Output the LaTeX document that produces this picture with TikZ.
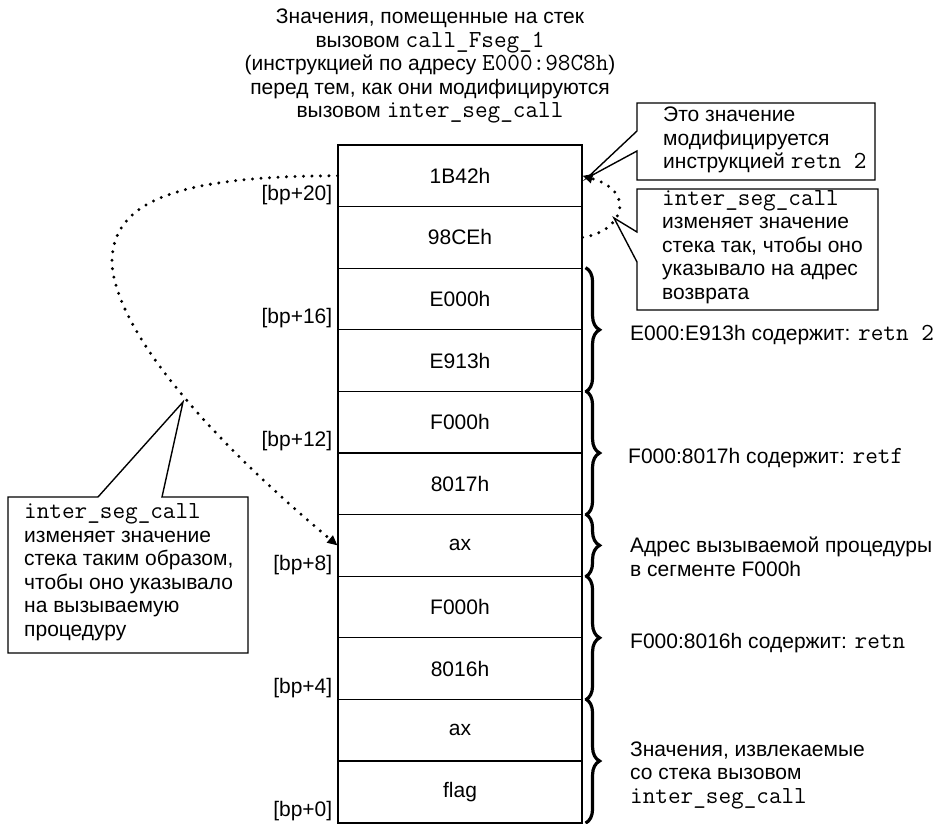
\documentclass[tikz,border=0pt]{standalone}
\usepackage{fontspec}
\setmainfont{Liberation Sans}
\usetikzlibrary{arrows.meta,decorations.pathreplacing,positioning}

\newcommand\mono[1]{{\fontsize{24.5}{23}\selectfont\ttfamily #1}}

\tikzset{
  cell/.style={draw, line width=1.1pt, minimum width=244pt, minimum height=61.6pt, inner sep=0pt},
  offs/.style={anchor=east, inner sep=0pt},
  note/.style={anchor=west, align=left, inner sep=0pt},
  callout/.style={draw, line width=1.4pt, line join=miter},
  dots/.style={line width=3.3pt, line cap=round, dash pattern=on 0pt off 8.5pt},
  brc/.style={decorate, decoration={brace, amplitude=14pt}},
  tip/.style={-{Triangle[length=10pt,width=9pt]}},
}

\begin{document}
\begin{tikzpicture}[x=1pt, y=-1pt, font=\fontsize{21}{23.5}\selectfont]
\useasboundingbox (0,0) rectangle (934,824);

% header
\node[align=center, inner sep=0pt] (head) at (430,66)
  {Значения, помещенные на стек\\ вызовом \mono{call\_Fseg\_1}\\
   (инструкцией по адресу \mono{E000:98C8h})\\
   перед тем, как они модифицируются\\ вызовом \mono{inter\_seg\_call}};

% stack
\foreach \v [count=\i] in {1B42h,98CEh,E000h,E913h,F000h,8017h,ax,F000h,8016h,ax,flag}
  \node[cell] (c\i) at (460,{145+61.6*(\i-0.5)}) {\v};
\draw[line width=1.5pt] (c1.north west) rectangle (c11.south east);

% offsets from bp
\foreach \o/\r in {20/1,16/3,12/5,8/7,4/9,0/11}
  \node[offs] (o\o) at ([xshift=-5pt,yshift=12pt]c\r.south west) {[bp+\o]};

% braces
\begin{scope}[line width=3.2pt]
\draw[brc] ([xshift=3pt]c3.north east) -- ([xshift=3pt]c4.south east);
\draw[brc] ([xshift=3pt]c5.north east) -- ([xshift=3pt]c6.south east);
\draw[brc] ([xshift=3pt]c7.north east) -- ([xshift=3pt]c7.south east);
\draw[brc] ([xshift=3pt]c8.north east) -- ([xshift=3pt]c9.south east);
\draw[brc] ([xshift=3pt]c10.north east) -- ([xshift=3pt]c11.south east);
\end{scope}

\node[note] (r1) at (630,335) {E000:E913h содержит: \mono{retn 2}};
\node[note] (r2) at (628,458) {F000:8017h содержит: \mono{retf}};
\node[note] (r3) at (630,557) {Адрес вызываемой процедуры\\ в сегменте F000h};
\node[note] (r4) at (630,643) {F000:8016h содержит: \mono{retn}};
\node[note] (r5) at (630,775) {Значения, извлекаемые\\ со стека вызовом\\ \mono{inter\_seg\_call}};

% dotted moves
\draw[dots, tip] (c1.west) .. controls (180,176) and (110,200) .. (112,265)
  .. controls (118,330) and (200,430) .. (c7.west);
\draw[dots, tip] (c2.east) .. controls (622,232) and (638,192) .. (c1.east);

% callouts
\coordinate (t1) at (587,178);
\draw[callout] (637,131) -- (637,103) -- (875,103) -- (875,180) -- (637,180) -- (637,151) -- (t1) -- cycle;
\node[note] (k1) at (663,140) {Это значение\\ модифицируется\\ инструкцией \mono{retn 2}};

\coordinate (t2) at (614,218);
\draw[callout] (637,232) -- (637,189) -- (878,189) -- (878,310) -- (637,310) -- (637,262) -- (t2) -- cycle;
\node[note] (k2) at (662,247) {\mono{inter\_seg\_call}\\ изменяет значение\\ стека так, чтобы оно\\ указывало на адрес\\ возврата};

\coordinate (t3) at (183,402);
\draw[callout] (98,497) -- (8,497) -- (8,653) -- (248,653) -- (248,497) -- (162,497) -- (t3) -- cycle;
\node[note] (k3) at (24,572) {\mono{inter\_seg\_call}\\ изменяет значение\\ стека таким образом,\\ чтобы оно указывало\\ на вызываемую\\ процедуру};
\end{tikzpicture}
\end{document}
